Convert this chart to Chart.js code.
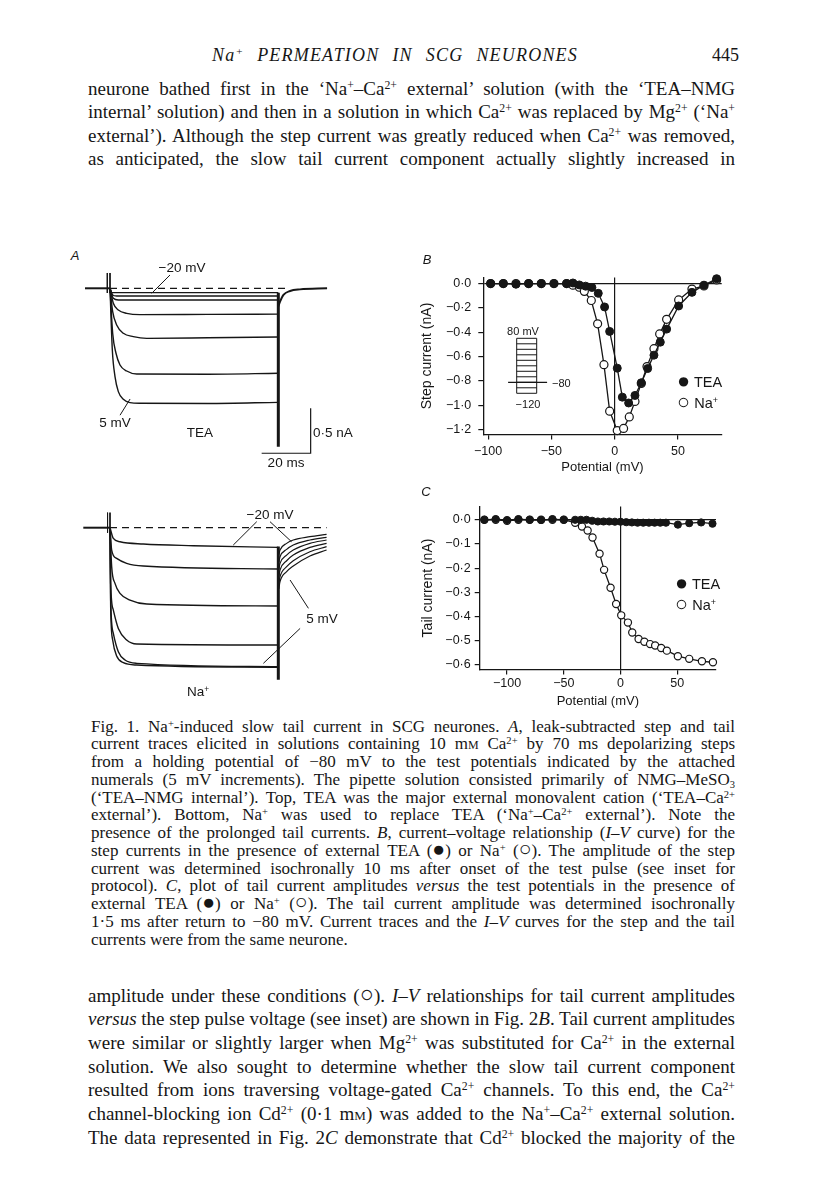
<!DOCTYPE html>
<html>
<head>
<meta charset="utf-8">
<script src="https://cdn.jsdelivr.net/npm/chart.js@4.4.1/dist/chart.umd.min.js"></script>
<style>
  body { margin: 0; width: 816px; height: 1200px; position: relative; overflow: hidden; background: #fff; color: #161616; }
  .j, .l { position: absolute; white-space: nowrap; font-family: "Liberation Serif", "Times New Roman", serif; }
  .body { left: 88px; width: 647px; font-size: 19px; line-height: 19px; }
  .cap { left: 91px; width: 644px; font-size: 17px; line-height: 17px; }
  sup { font-size: 0.62em; vertical-align: 0.5em; line-height: 0; }
  sub { font-size: 0.62em; vertical-align: -0.25em; line-height: 0; }
  .sc { font-variant: small-caps; }
  .sym { font-size: 1.25em; line-height: 0; }
  .lsym { font-size: 1.5em; line-height: 0; vertical-align: -0.05em; }
  .s { position: absolute; font-family: "Liberation Sans", Arial, sans-serif; white-space: nowrap; line-height: 1; transform: translate(-50%, -50%); }
  .sl { position: absolute; font-family: "Liberation Sans", Arial, sans-serif; white-space: nowrap; line-height: 1; transform: translateY(-50%); }
  canvas { position: absolute; }
</style>
</head>
<body>

<!-- running head -->
<div class="j" style="left:212px;width:366px;top:46px;font-size:18px;line-height:18px;letter-spacing:1.2px;"><span><i>Na<sup>+</sup> PERMEATION IN SCG NEURONES</i></span></div>
<div class="l" style="left:712px;top:46px;font-size:18px;line-height:18px;">445</div>

<!-- text above the figure -->
<div class="j body" style="top:78.6px"><span>neurone bathed first in the ‘Na<sup>+</sup>–Ca<sup>2+</sup> external’ solution (with the ‘TEA–NMG</span></div>
<div class="j body" style="top:101.6px"><span>internal’ solution) and then in a solution in which Ca<sup>2+</sup> was replaced by Mg<sup>2+</sup> (‘Na<sup>+</sup></span></div>
<div class="j body" style="top:125.6px"><span>external’). Although the step current was greatly reduced when Ca<sup>2+</sup> was removed,</span></div>
<div class="j body" style="top:148.6px"><span>as anticipated, the slow tail current component actually slightly increased in</span></div>

<!-- figure canvases -->
<canvas id="tracesTea" width="250" height="200" style="left:80px;top:260px"></canvas>
<canvas id="tracesNa" width="250" height="195" style="left:80px;top:505px"></canvas>
<canvas id="ivStep" width="325" height="216" style="left:415px;top:263px"></canvas>
<canvas id="ivTail" width="324" height="218" style="left:416px;top:495px"></canvas>
<canvas id="inset" width="70" height="70" style="left:500px;top:330px"></canvas>

<!-- figure labels -->
<div class="s" style="left:75px;top:255px;font-size:13px"><i>A</i></div>
<div class="s" style="left:182px;top:268px;font-size:13.5px">−20 mV</div>
<div class="s" style="left:115px;top:423px;font-size:13.5px">5 mV</div>
<div class="s" style="left:200px;top:433px;font-size:13.5px">TEA</div>
<div class="sl" style="left:313px;top:433px;font-size:13.5px">0·5 nA</div>
<div class="s" style="left:286px;top:463px;font-size:13.5px">20 ms</div>

<div class="s" style="left:270px;top:515px;font-size:13.5px">−20 mV</div>
<div class="s" style="left:322px;top:619px;font-size:13.5px">5 mV</div>
<div class="s" style="left:198px;top:692px;font-size:13.5px">Na<sup>+</sup></div>

<div class="s" style="left:427px;top:259px;font-size:13px"><i>B</i></div>
<div class="s" style="left:523px;top:331px;font-size:11px">80 mV</div>
<div class="sl" style="left:552px;top:383px;font-size:11px">−80</div>
<div class="s" style="left:528px;top:404px;font-size:11px">−120</div>
<div class="sl" style="left:677px;top:382px;font-size:14.5px"><span class="lsym">●</span> TEA</div>
<div class="sl" style="left:677px;top:403px;font-size:14.5px"><span class="lsym">○</span> Na<sup>+</sup></div>

<div class="s" style="left:426px;top:491px;font-size:13px"><i>C</i></div>
<div class="sl" style="left:675px;top:584px;font-size:14.5px"><span class="lsym">●</span> TEA</div>
<div class="sl" style="left:675px;top:605px;font-size:14.5px"><span class="lsym">○</span> Na<sup>+</sup></div>

<!-- caption -->
<div class="j cap" style="top:717.5px"><span>Fig. 1. Na<sup>+</sup>-induced slow tail current in SCG neurones. <i>A</i>, leak-subtracted step and tail</span></div>
<div class="j cap" style="top:735.3px"><span>current traces elicited in solutions containing 10 m<span class="sc">m</span> Ca<sup>2+</sup> by 70 ms depolarizing steps</span></div>
<div class="j cap" style="top:753px"><span>from a holding potential of −80 mV to the test potentials indicated by the attached</span></div>
<div class="j cap" style="top:770.8px"><span>numerals (5 mV increments). The pipette solution consisted primarily of NMG–MeSO<sub>3</sub></span></div>
<div class="j cap" style="top:788.5px"><span>(‘TEA–NMG internal’). Top, TEA was the major external monovalent cation (‘TEA–Ca<sup>2+</sup></span></div>
<div class="j cap" style="top:806.3px"><span>external’). Bottom, Na<sup>+</sup> was used to replace TEA (‘Na<sup>+</sup>–Ca<sup>2+</sup> external’). Note the</span></div>
<div class="j cap" style="top:824px"><span>presence of the prolonged tail currents. <i>B</i>, current–voltage relationship (<i>I–V</i> curve) for the</span></div>
<div class="j cap" style="top:841.8px"><span>step currents in the presence of external TEA (<span class="sym">●</span>) or Na<sup>+</sup> (<span class="sym">○</span>). The amplitude of the step</span></div>
<div class="j cap" style="top:859.5px"><span>current was determined isochronally 10 ms after onset of the test pulse (see inset for</span></div>
<div class="j cap" style="top:877.3px"><span>protocol). <i>C</i>, plot of tail current amplitudes <i>versus</i> the test potentials in the presence of</span></div>
<div class="j cap" style="top:895px"><span>external TEA (<span class="sym">●</span>) or Na<sup>+</sup> (<span class="sym">○</span>). The tail current amplitude was determined isochronally</span></div>
<div class="j cap" style="top:912.8px"><span>1·5 ms after return to −80 mV. Current traces and the <i>I–V</i> curves for the step and the tail</span></div>
<div class="l cap" style="top:930.5px"><span>currents were from the same neurone.</span></div>

<!-- text below the figure -->
<div class="j body" style="top:985.6px"><span>amplitude under these conditions (<span class="sym">○</span>). <i>I–V</i> relationships for tail current amplitudes</span></div>
<div class="j body" style="top:1009.3px"><span><i>versus</i> the step pulse voltage (see inset) are shown in Fig. 2<i>B</i>. Tail current amplitudes</span></div>
<div class="j body" style="top:1033px"><span>were similar or slightly larger when Mg<sup>2+</sup> was substituted for Ca<sup>2+</sup> in the external</span></div>
<div class="j body" style="top:1056.7px"><span>solution. We also sought to determine whether the slow tail current component</span></div>
<div class="j body" style="top:1080.4px"><span>resulted from ions traversing voltage-gated Ca<sup>2+</sup> channels. To this end, the Ca<sup>2+</sup></span></div>
<div class="j body" style="top:1104.1px"><span>channel-blocking ion Cd<sup>2+</sup> (0·1 m<span class="sc">m</span>) was added to the Na<sup>+</sup>–Ca<sup>2+</sup> external solution.</span></div>
<div class="j body" style="top:1127.8px"><span>The data represented in Fig. 2<i>C</i> demonstrate that Cd<sup>2+</sup> blocked the majority of the</span></div>

<script>
// ---- panel B: step current vs potential (mV, nA)
const STEP_V_TEA = [-98, -88, -78, -68, -58, -48, -38, -33, -28, -23, -18, -13, -8, -4, 2, 6, 11, 16, 21, 26, 31, 36, 41, 50.5, 61, 70.5, 80.5];
const STEP_I_TEA = [0, 0, -0.005, 0, 0, 0, 0, 0.005, -0.011, -0.021, -0.032, -0.08, -0.192, -0.393, -0.695, -0.933, -0.981, -0.919, -0.815, -0.698, -0.588, -0.481, -0.374, -0.184, -0.072, -0.013, 0.04];
const STEP_V_NA = [-98, -88, -78, -68, -58, -48, -38, -33, -28, -24, -18.5, -13.5, -8.5, -4, 2, 7, 11.5, 16, 21, 25.5, 31, 35.5, 41, 50.5, 61, 70.5, 80.5];
const STEP_I_NA = [0, 0, 0, 0, 0, 0, 0, -0.013, -0.03, -0.064, -0.139, -0.331, -0.666, -1.048, -1.208, -1.19, -1.096, -0.968, -0.82, -0.682, -0.535, -0.414, -0.294, -0.134, -0.045, -0.019, 0.03];
const STEP_X_TICKS = [-100, -50, 0, 50];
const STEP_Y_TICKS = [0, -0.2, -0.4, -0.6, -0.8, -1.0, -1.2];

// ---- panel C: tail current vs potential
const TAIL_V_TEA = [-120, -110, -100, -90, -80, -70, -60, -50, -40, -35, -30, -25, -20, -15, -10, -5, 0, 5, 10, 15, 20, 25, 30, 35, 40, 50.5, 60.5, 71, 81];
const TAIL_I_TEA = [0, 0.003, -0.001, 0.003, 0, -0.001, 0.003, 0, 0, 0, 0, -0.004, -0.007, -0.007, -0.007, -0.008, -0.008, -0.01, -0.011, -0.012, -0.012, -0.012, -0.012, -0.012, -0.012, -0.02, -0.014, -0.011, -0.016];
const TAIL_V_NA = [-120, -110, -100, -90, -80, -70, -60, -50, -40, -34, -29, -24.7, -18.5, -14.5, -8.8, -3.9, 0.6, 6.5, 10.3, 15.9, 21, 26, 30.5, 35.8, 40.8, 50.5, 60.5, 71.7, 81.4];
const TAIL_I_NA = [0, 0, -0.004, 0, 0, 0, 0, 0, -0.012, -0.028, -0.044, -0.073, -0.14, -0.207, -0.281, -0.348, -0.395, -0.425, -0.466, -0.493, -0.504, -0.514, -0.52, -0.53, -0.541, -0.564, -0.575, -0.585, -0.589];
const TAIL_X_TICKS = [-100, -50, 0, 50];
const TAIL_Y_TICKS = [0, -0.1, -0.2, -0.3, -0.4, -0.5, -0.6];

// ---- inset: pulse protocol levels (mV)
const PROTOCOL_LEVELS = [-120, -100, -80, -60, -40, -20, 0, 20, 40, 60, 80];
const HOLDING = -80;

// ---- panel A traces, [time ms, current nA]
const TEA_TRACES = [
  [[0, 0], [0.68, -0.048], [68.7, -0.048]],
  [[0, 0], [1.09, -0.074], [2.72, -0.085], [68.7, -0.085]],
  [[0, 0], [1.36, -0.111], [3.4, -0.13], [68.7, -0.13]],
  [[0, 0], [1.36, -0.167], [3.4, -0.241], [6.8, -0.278], [12.2, -0.293], [40, -0.29], [68.7, -0.287]],
  [[0, 0], [1.09, -0.259], [2.72, -0.407], [5.44, -0.5], [9.52, -0.537], [15, -0.556], [40, -0.55], [68.7, -0.541]],
  [[0, 0], [1.09, -0.5], [2.45, -0.722], [4.08, -0.852], [6.8, -0.919], [10.9, -0.952], [40, -0.955], [68.7, -0.944]],
  [[0, 0], [0.95, -0.685], [2.04, -0.981], [3.4, -1.148], [5.44, -1.233], [8.16, -1.27], [12.2, -1.278], [40, -1.28], [68.7, -1.267]]
];
const TEA_TAIL = [[68.7, -0.2], [69.4, -0.149], [70.8, -0.074], [73.5, -0.03], [77.5, -0.012], [88.6, 0]];
const TEA_PRE = [[-10.2, 0], [0, 0]];
const TEA_ON = [[[-1.1, 0.17], [-1.1, -0.052]], [[0, 0.17], [0, -0.052]]];
const TEA_OFF = [[68.7, -0.05], [68.7, -1.76]];
const TEA_ZERO = [[0, 0], [72.2, 0]];
const SCALE_BAR = [[61.9, -1.833], [81.9, -1.833], [81.9, -1.333]];
const TEA_LEADERS = [[[24.5, 0.148], [17, -0.056]], [[4.1, -1.41], [8.2, -1.23]]];

const NA_TRACES = [
  [[0, 0], [1.36, -0.119], [4.08, -0.156], [13.6, -0.181], [34, -0.2], [68.7, -0.219]],
  [[0, 0], [0.68, -0.248], [2.72, -0.341], [6.8, -0.396], [13.6, -0.426], [68.7, -0.459]],
  [[0, 0], [0.68, -0.433], [2.04, -0.619], [4.08, -0.73], [8.16, -0.804], [15, -0.848], [68.7, -0.87]],
  [[0, 0], [0.27, -0.619], [1.36, -0.915], [3.4, -1.119], [6.8, -1.248], [10.9, -1.293], [68.7, -1.304]],
  [[0, 0], [0.27, -0.804], [1.36, -1.174], [3.4, -1.378], [6.12, -1.47], [10.9, -1.507], [68.7, -1.544]],
  [[0, 0], [0.27, -0.878], [1.09, -1.248], [2.72, -1.426], [5.44, -1.5], [10.9, -1.526], [68.7, -1.552]]
];
const NA_TAILS = [
  [[68.9, -0.3], [69.4, -0.248], [72.1, -0.174], [74.8, -0.137], [81.6, -0.1], [88.4, -0.074]],
  [[68.9, -0.38], [69.4, -0.322], [72.1, -0.241], [74.8, -0.193], [81.6, -0.137], [88.4, -0.107]],
  [[68.9, -0.46], [69.4, -0.396], [72.1, -0.304], [74.8, -0.248], [81.6, -0.174], [88.4, -0.137]],
  [[68.9, -0.54], [69.4, -0.47], [72.1, -0.367], [74.8, -0.304], [81.6, -0.219], [88.4, -0.174]],
  [[68.9, -0.62], [69.4, -0.544], [72.1, -0.433], [74.8, -0.367], [81.6, -0.267], [88.4, -0.211]],
  [[68.9, -0.68], [69.4, -0.6], [72.1, -0.489], [74.8, -0.426], [81.6, -0.315], [88.4, -0.248]]
];
const NA_PRE = [[-10.9, 0], [0, 0]];
const NA_ON = [[[-1, 0.167], [-1, -0.056]], [[0, 0.167], [0, -0.056]]];
const NA_OFF = [[68.7, -0.21], [68.7, -1.69]];
const NA_ZERO = [[0, 0], [88.4, 0]];
const NA_LEADERS = [
  [[59.9, 0.067], [50.3, -0.193]], [[65.3, 0.067], [74.1, -0.156]],
  [[81, -0.896], [73.5, -0.581]], [[77.6, -1.119], [62.6, -1.507]]
];

const INK = '#161616';
Chart.defaults.font.family = '"Liberation Sans", Arial, sans-serif';
Chart.defaults.color = INK;

function fmt(v, d) {
  return (v < 0 ? '−' : '') + Math.abs(v).toFixed(d).replace('.', '·');
}
const pts = (xs, ys) => xs.map((x, i) => ({ x, y: ys[i] }));
const pairs = a => a.map(p => ({ x: p[0], y: p[1] }));

function ln(points, w, extra) {
  return Object.assign({
    data: pairs(points), showLine: true, pointRadius: 0,
    borderColor: INK, borderWidth: w, clip: false, tension: 0
  }, extra || {});
}

function plainChart(id, xr, yr, sets) {
  return new Chart(document.getElementById(id), {
    type: 'scatter',
    data: { datasets: sets },
    options: {
      responsive: false, animation: false, events: [], devicePixelRatio: 1,
      layout: { padding: 0 },
      plugins: { legend: { display: false }, tooltip: { enabled: false } },
      scales: {
        x: { type: 'linear', display: false, min: xr[0], max: xr[1] },
        y: { type: 'linear', display: false, min: yr[0], max: yr[1] }
      }
    }
  });
}

// panel A, TEA
const smooth = { cubicInterpolationMode: 'monotone' };
plainChart('tracesTea', [-12.245, 89.796], [-1.9078, 0.3144], [
  ln(TEA_PRE, 2),
  ...TEA_ON.map(s => ln(s, 1)),
  ln(TEA_ZERO, 1.3, { borderDash: [7, 5] }),
  ...TEA_TRACES.map(t => ln(t, 1.4, smooth)),
  ln(TEA_OFF, 3),
  ln(TEA_TAIL, 2, smooth),
  ln(SCALE_BAR, 1.2),
  ...TEA_LEADERS.map(s => ln(s, 1))
]);

// panel A, Na+
plainChart('tracesNa', [-12.245, 89.796], [-1.9144, 0.2522], [
  ln(NA_PRE, 2),
  ...NA_ON.map(s => ln(s, 1)),
  ln(NA_ZERO, 1.3, { borderDash: [7, 5] }),
  ...NA_TRACES.map(t => ln(t, 1.4, smooth)),
  ln(NA_OFF, 3),
  ...NA_TAILS.map(t => ln(t, 1.2, smooth)),
  ...NA_LEADERS.map(s => ln(s, 1))
]);

// inset protocol
plainChart('inset', [-0.835, 2.665], [-144.4, 110.2], [
  ...PROTOCOL_LEVELS.map(v => ln([[0, v], [1, v]], 1)),
  ln([[0, PROTOCOL_LEVELS[0]], [0, PROTOCOL_LEVELS[PROTOCOL_LEVELS.length - 1]]], 1),
  ln([[1, PROTOCOL_LEVELS[0]], [1, PROTOCOL_LEVELS[PROTOCOL_LEVELS.length - 1]]], 1),
  ln([[-0.43, HOLDING], [1.52, HOLDING]], 1.2)
]);

function ivChart(id, c) {
  const axisGrid = {
    color: ctx => (ctx.tick && ctx.tick.value === 0) ? INK : 'rgba(0,0,0,0)',
    lineWidth: 1.2, tickColor: INK, tickLength: 5, tickWidth: 1.2
  };
  return new Chart(document.getElementById(id), {
    type: 'scatter',
    data: {
      datasets: [
        { data: pts(c.vTea, c.iTea), showLine: true, borderColor: INK, borderWidth: 1.3,
          pointRadius: c.r, pointBackgroundColor: INK, pointBorderColor: INK, pointBorderWidth: 1, clip: false },
        { data: pts(c.vNa, c.iNa), showLine: true, borderColor: INK, borderWidth: 1.3,
          pointRadius: c.r, pointBackgroundColor: '#fff', pointBorderColor: INK, pointBorderWidth: 1.2, clip: false }
      ]
    },
    options: {
      responsive: false, animation: false, events: [], devicePixelRatio: 1,
      layout: { padding: c.pad },
      plugins: { legend: { display: false }, tooltip: { enabled: false } },
      scales: {
        x: {
          type: 'linear', min: c.xr[0], max: c.xr[1],
          afterBuildTicks: s => { s.ticks = c.xTicks.map(v => ({ value: v })); },
          afterFit: s => { s.height = c.xh; },
          ticks: { callback: v => fmt(v, 0), font: { size: 12.5 }, color: INK, padding: c.xpad, maxRotation: 0 },
          grid: axisGrid,
          border: { display: true, color: INK, width: 1.3 },
          title: { display: true, text: 'Potential (mV)', font: { size: 13 }, color: INK, padding: { top: 4, bottom: 4 } }
        },
        y: {
          type: 'linear', min: c.yr[0], max: c.yr[1],
          afterBuildTicks: s => { s.ticks = c.yTicks.map(v => ({ value: v })); },
          afterFit: s => { s.width = c.yw; },
          ticks: { callback: v => fmt(v, 1), font: { size: 12.5 }, color: INK, padding: c.ypad },
          grid: axisGrid,
          border: { display: true, color: INK, width: 1.3 },
          title: { display: true, text: c.yTitle, font: { size: 14 }, color: INK, padding: { top: 4, bottom: 4 } }
        }
      }
    }
  });
}

ivChart('ivStep', {
  vTea: STEP_V_TEA, iTea: STEP_I_TEA, vNa: STEP_V_NA, iNa: STEP_I_NA,
  xTicks: STEP_X_TICKS, yTicks: STEP_Y_TICKS, r: 4,
  xr: [-103.8, 84.5], yr: [-1.24, 0.05],
  pad: { top: 10, right: 18.3, left: 0, bottom: 0 }, xh: 44.5, yw: 68.3, xpad: 5, ypad: 7,
  yTitle: 'Step current (nA)'
});

ivChart('ivTail', {
  vTea: TAIL_V_TEA, iTea: TAIL_I_TEA, vNa: TAIL_V_NA, iNa: TAIL_I_NA,
  xTicks: TAIL_X_TICKS, yTicks: TAIL_Y_TICKS, r: 3.6,
  xr: [-124.1, 84.1], yr: [-0.619, 0.055],
  pad: { top: 10, right: 24, left: 0, bottom: 0 }, xh: 43.5, yw: 63.7, xpad: 2, ypad: 4,
  yTitle: 'Tail current (nA)'
});

// stretch each printed line to its measure, like the justified page
document.querySelectorAll('.j').forEach(el => {
  const span = el.firstElementChild;
  const w = span.getBoundingClientRect().width;
  const n = (span.textContent.match(/ /g) || []).length;
  if (n) el.style.wordSpacing = ((el.clientWidth - w) / n) + 'px';
});
</script>
</body>
</html>
